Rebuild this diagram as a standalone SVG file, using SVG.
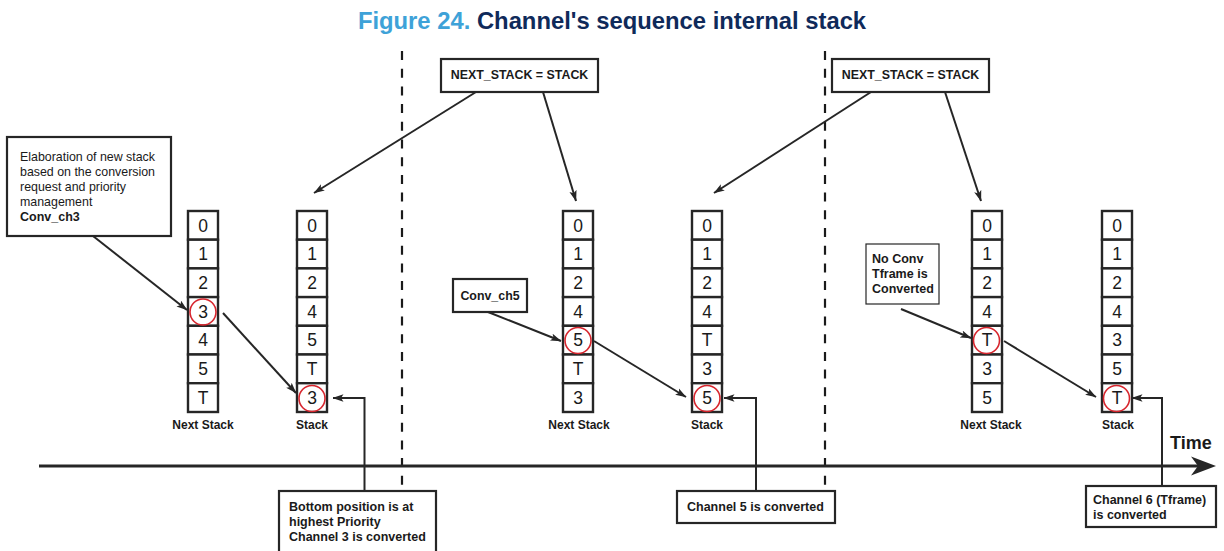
<svg xmlns="http://www.w3.org/2000/svg" width="1224" height="551" viewBox="0 0 1224 551">
<style>
text{font-family:"Liberation Sans",Arial,sans-serif;fill:#1a1a1a}
.title{font-size:23.8px;font-weight:bold}
.box{fill:#fff;stroke:#262626;stroke-width:2.2}
.thin{fill:#fff;stroke:#262626;stroke-width:1.2}
.cell{fill:#fff;stroke:#262626;stroke-width:2.4}
.dig{font-size:17.5px;text-anchor:middle}
.lbl{font-size:12px;font-weight:bold;text-anchor:middle}
.t{font-size:12.4px}
.b{font-size:12.5px;font-weight:bold}
.bc{font-size:12.4px;font-weight:bold;text-anchor:middle}
.ring{fill:none;stroke:#d7262e;stroke-width:1.6}
.con{fill:none;stroke:#262626;stroke-width:2;marker-end:url(#ah)}
.dash{stroke:#1a1a1a;stroke-width:2.2;stroke-dasharray:9 8.7}
</style>
<defs>
<marker id="ah" viewBox="0 0 11 8" refX="10.5" refY="4" markerWidth="11" markerHeight="8" markerUnits="userSpaceOnUse" orient="auto">
<path d="M0,0.3 L11,4 L0,7.7 L2.5,4 Z" fill="#262626"/>
</marker>
</defs>

<text class="title" x="612" y="28.5" text-anchor="middle"><tspan fill="#3ea2d8">Figure 24.</tspan><tspan fill="#0f2a5a"> Channel's sequence internal stack</tspan></text>

<g id="dividers">
<line class="dash" x1="402" y1="51" x2="402" y2="487"/>
<line class="dash" x1="825" y1="51" x2="825" y2="487"/>
</g>

<g id="timeline">
<line x1="39" y1="466" x2="1200" y2="466" stroke="#262626" stroke-width="3.2"/>
<path d="M1216,466 L1191,456.5 L1198,466 L1191,475.5 Z" fill="#262626"/>
<text x="1170" y="449" style="font-size:18px;font-weight:bold">Time</text>
</g>

<g id="stack1">
<rect class="cell" x="188" y="211" width="30" height="28.7"/>
<rect class="cell" x="188" y="239.7" width="30" height="28.7"/>
<rect class="cell" x="188" y="268.4" width="30" height="28.7"/>
<rect class="cell" x="188" y="297.1" width="30" height="28.7"/>
<rect class="cell" x="188" y="325.8" width="30" height="28.7"/>
<rect class="cell" x="188" y="354.5" width="30" height="28.7"/>
<rect class="cell" x="188" y="383.2" width="30" height="28.8"/>
<text class="dig" x="203" y="231.5">0</text>
<text class="dig" x="203" y="260.2">1</text>
<text class="dig" x="203" y="288.9">2</text>
<text class="dig" x="203" y="317.6">3</text>
<text class="dig" x="203" y="346.3">4</text>
<text class="dig" x="203" y="375">5</text>
<text class="dig" x="203" y="403.7">T</text>
<circle class="ring" cx="203" cy="312" r="13"/>
<text class="lbl" x="203" y="428.5">Next Stack</text>
</g>

<g id="stack2">
<rect class="cell" x="297" y="211" width="30" height="28.7"/>
<rect class="cell" x="297" y="239.7" width="30" height="28.7"/>
<rect class="cell" x="297" y="268.4" width="30" height="28.7"/>
<rect class="cell" x="297" y="297.1" width="30" height="28.7"/>
<rect class="cell" x="297" y="325.8" width="30" height="28.7"/>
<rect class="cell" x="297" y="354.5" width="30" height="28.7"/>
<rect class="cell" x="297" y="383.2" width="30" height="28.8"/>
<text class="dig" x="312" y="231.5">0</text>
<text class="dig" x="312" y="260.2">1</text>
<text class="dig" x="312" y="288.9">2</text>
<text class="dig" x="312" y="317.6">4</text>
<text class="dig" x="312" y="346.3">5</text>
<text class="dig" x="312" y="375">T</text>
<text class="dig" x="312" y="403.7">3</text>
<circle class="ring" cx="312" cy="398.5" r="13"/>
<text class="lbl" x="312" y="428.5">Stack</text>
</g>

<g id="stack3">
<rect class="cell" x="563" y="211" width="30" height="28.7"/>
<rect class="cell" x="563" y="239.7" width="30" height="28.7"/>
<rect class="cell" x="563" y="268.4" width="30" height="28.7"/>
<rect class="cell" x="563" y="297.1" width="30" height="28.7"/>
<rect class="cell" x="563" y="325.8" width="30" height="28.7"/>
<rect class="cell" x="563" y="354.5" width="30" height="28.7"/>
<rect class="cell" x="563" y="383.2" width="30" height="28.8"/>
<text class="dig" x="578" y="231.5">0</text>
<text class="dig" x="578" y="260.2">1</text>
<text class="dig" x="578" y="288.9">2</text>
<text class="dig" x="578" y="317.6">4</text>
<text class="dig" x="578" y="346.3">5</text>
<text class="dig" x="578" y="375">T</text>
<text class="dig" x="578" y="403.7">3</text>
<circle class="ring" cx="578" cy="340.5" r="13"/>
<text class="lbl" x="579" y="428.5">Next Stack</text>
</g>

<g id="stack4">
<rect class="cell" x="692" y="211" width="30" height="28.7"/>
<rect class="cell" x="692" y="239.7" width="30" height="28.7"/>
<rect class="cell" x="692" y="268.4" width="30" height="28.7"/>
<rect class="cell" x="692" y="297.1" width="30" height="28.7"/>
<rect class="cell" x="692" y="325.8" width="30" height="28.7"/>
<rect class="cell" x="692" y="354.5" width="30" height="28.7"/>
<rect class="cell" x="692" y="383.2" width="30" height="28.8"/>
<text class="dig" x="707" y="231.5">0</text>
<text class="dig" x="707" y="260.2">1</text>
<text class="dig" x="707" y="288.9">2</text>
<text class="dig" x="707" y="317.6">4</text>
<text class="dig" x="707" y="346.3">T</text>
<text class="dig" x="707" y="375">3</text>
<text class="dig" x="707" y="403.7">5</text>
<circle class="ring" cx="707" cy="398.5" r="13"/>
<text class="lbl" x="707" y="428.5">Stack</text>
</g>

<g id="stack5">
<rect class="cell" x="972" y="211" width="30" height="28.7"/>
<rect class="cell" x="972" y="239.7" width="30" height="28.7"/>
<rect class="cell" x="972" y="268.4" width="30" height="28.7"/>
<rect class="cell" x="972" y="297.1" width="30" height="28.7"/>
<rect class="cell" x="972" y="325.8" width="30" height="28.7"/>
<rect class="cell" x="972" y="354.5" width="30" height="28.7"/>
<rect class="cell" x="972" y="383.2" width="30" height="28.8"/>
<text class="dig" x="987" y="231.5">0</text>
<text class="dig" x="987" y="260.2">1</text>
<text class="dig" x="987" y="288.9">2</text>
<text class="dig" x="987" y="317.6">4</text>
<text class="dig" x="987" y="346.3">T</text>
<text class="dig" x="987" y="375">3</text>
<text class="dig" x="987" y="403.7">5</text>
<circle class="ring" cx="986.5" cy="340.5" r="13"/>
<text class="lbl" x="991" y="428.5">Next Stack</text>
</g>

<g id="stack6">
<rect class="cell" x="1102" y="211" width="30" height="28.7"/>
<rect class="cell" x="1102" y="239.7" width="30" height="28.7"/>
<rect class="cell" x="1102" y="268.4" width="30" height="28.7"/>
<rect class="cell" x="1102" y="297.1" width="30" height="28.7"/>
<rect class="cell" x="1102" y="325.8" width="30" height="28.7"/>
<rect class="cell" x="1102" y="354.5" width="30" height="28.7"/>
<rect class="cell" x="1102" y="383.2" width="30" height="28.8"/>
<text class="dig" x="1117" y="231.5">0</text>
<text class="dig" x="1117" y="260.2">1</text>
<text class="dig" x="1117" y="288.9">2</text>
<text class="dig" x="1117" y="317.6">4</text>
<text class="dig" x="1117" y="346.3">3</text>
<text class="dig" x="1117" y="375">5</text>
<text class="dig" x="1117" y="403.7">T</text>
<circle class="ring" cx="1116.5" cy="398.5" r="13"/>
<text class="lbl" x="1118" y="428.5">Stack</text>
</g>

<g id="box-elaboration">
<rect class="box" x="7" y="137" width="164" height="99"/>
<text class="t" x="20" y="160.5">Elaboration of new stack</text>
<text class="t" x="20" y="175.5">based on the conversion</text>
<text class="t" x="20" y="190.5">request and priority</text>
<text class="t" x="20" y="205.5">management</text>
<text class="b" x="20" y="220.5">Conv_ch3</text>
</g>

<g id="box-nextstack1">
<rect class="box" x="441" y="59" width="157" height="33"/>
<text class="bc" x="519.5" y="79">NEXT_STACK = STACK</text>
</g>

<g id="box-nextstack2">
<rect class="box" x="832" y="59" width="157" height="33"/>
<text class="bc" x="910.5" y="79">NEXT_STACK = STACK</text>
</g>

<g id="box-conv5">
<rect class="box" x="453" y="279" width="74" height="33"/>
<text class="bc" x="490" y="299.5">Conv_ch5</text>
</g>

<g id="box-noconv">
<rect class="thin" x="866" y="244" width="73" height="60"/>
<text class="b" x="872" y="262.5">No Conv</text>
<text class="b" x="872" y="277.5">Tframe is</text>
<text class="b" x="872" y="292.5">Converted</text>
</g>

<g id="box-bottom">
<rect class="box" x="279" y="491" width="157" height="70"/>
<text class="b" x="289" y="511">Bottom position is at</text>
<text class="b" x="289" y="526">highest Priority</text>
<text class="b" x="289" y="541">Channel 3 is converted</text>
</g>

<g id="box-ch5">
<rect class="box" x="677" y="491" width="158" height="32"/>
<text class="b" x="687" y="510.5">Channel 5 is converted</text>
</g>

<g id="box-ch6">
<rect class="box" x="1086" y="486" width="130" height="41"/>
<text class="b" x="1093" y="503.5">Channel 6 (Tframe)</text>
<text class="b" x="1093" y="518.5">is converted</text>
</g>

<g id="connectors">
<line class="con" x1="93" y1="236" x2="187" y2="310"/>
<line class="con" x1="223" y1="313" x2="296" y2="393"/>
<polyline class="con" points="364.5,491 364.5,398 333,398"/>
<line class="con" x1="476" y1="92" x2="314" y2="193"/>
<line class="con" x1="543" y1="92" x2="576" y2="201"/>
<line class="con" x1="488" y1="312" x2="561" y2="341"/>
<line class="con" x1="594" y1="341" x2="686" y2="397"/>
<polyline class="con" points="756,491 756,398 724,398"/>
<line class="con" x1="871" y1="92" x2="714" y2="193"/>
<line class="con" x1="945" y1="92" x2="981" y2="201"/>
<line class="con" x1="901" y1="309" x2="971" y2="338"/>
<line class="con" x1="1004" y1="341" x2="1096" y2="397"/>
<polyline class="con" points="1162,486 1162,398 1132,398"/>
</g>
</svg>
